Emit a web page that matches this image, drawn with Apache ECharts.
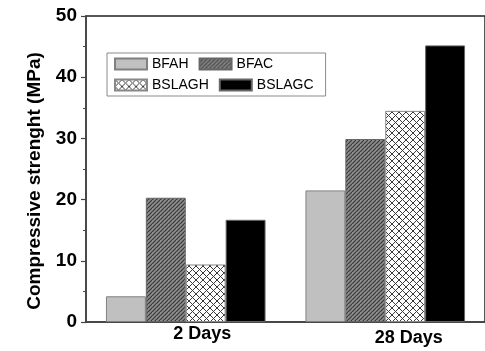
<!DOCTYPE html>
<html>
<head>
<meta charset="utf-8">
<script src="https://cdn.jsdelivr.net/npm/echarts@6/dist/echarts.min.js"></script>
<style>
  html, body { margin: 0; padding: 0; background: #fff; }
  #chart { width: 485px; height: 351px; }
</style>
</head>
<body>
<div id="chart"></div>
<script>
var categories = ["2 Days", "28 Days"];
var seriesNames = ["BFAH", "BFAC", "BSLAGH", "BSLAGC"];
var bfah = [4.2, 21.5];
var bfac = [20.3, 29.9];
var bslagh = [9.4, 34.5];
var bslagc = [16.7, 45.2];
var yTicks = [0, 10, 20, 30, 40, 50];

// hatch fills, like the printed figure
function hatchPattern() {
  var c = document.createElement("canvas");
  c.width = 4; c.height = 4;
  var ctx = c.getContext("2d");
  ctx.fillStyle = "#8c8c8c";
  ctx.fillRect(0, 0, 4, 4);
  ctx.strokeStyle = "#3a3a3a";
  ctx.lineWidth = 1.2;
  for (var k = -1; k <= 1; k++) {
    ctx.beginPath();
    ctx.moveTo(0, 4 + 4 * k);
    ctx.lineTo(4 + 4 * k, 0);
    ctx.stroke();
  }
  return { image: c, repeat: "repeat" };
}
function crossPattern() {
  var s = 7;
  var c = document.createElement("canvas");
  c.width = s; c.height = s;
  var ctx = c.getContext("2d");
  ctx.fillStyle = "#fff";
  ctx.fillRect(0, 0, s, s);
  ctx.strokeStyle = "#3a3a3a";
  ctx.lineWidth = 1;
  for (var k = -1; k <= 1; k++) {
    ctx.beginPath();
    ctx.moveTo(0, s + s * k);
    ctx.lineTo(s + s * k, 0);
    ctx.stroke();
    ctx.beginPath();
    ctx.moveTo(s * k, 0);
    ctx.lineTo(s * k + s, s);
    ctx.stroke();
  }
  return { image: c, repeat: "repeat" };
}

var font = "'Liberation Sans', Arial, sans-serif";
var chart = echarts.init(document.getElementById("chart"));

function bar(name, data, style) {
  return {
    name: name,
    type: "bar",
    barGap: "0%",
    barCategoryGap: "20%",
    itemStyle: style,
    data: data
  };
}

var option = {
  animation: false,
  textStyle: { fontFamily: font },
  grid: {
    left: 86, right: -6, top: 16, bottom: 29,
    show: true, borderColor: "#222", borderWidth: 1.5
  },
  legend: {
    left: 107, top: 53,
    width: 210,
    padding: [4, 9, 4, 7],
    itemWidth: 32, itemHeight: 11,
    itemGap: 7,
    icon: "rect",
    borderColor: "#8a8a8a", borderWidth: 1,
    textStyle: { fontSize: 14, color: "#000", fontFamily: font, lineHeight: 12, padding: [0, 3, 0, 0] },
    data: seriesNames
  },
  xAxis: {
    type: "category",
    data: categories,
    axisLine: { lineStyle: { color: "#444", width: 1.5 } },
    axisTick: { show: false },
    axisLabel: {
      margin: 3,
      formatter: function (v, i) { return "{c" + i + "|" + v + "}"; },
      rich: {
        c0: { fontSize: 18, fontWeight: "bold", color: "#000", fontFamily: font, padding: [0, 0, 0, 33] },
        c1: { fontSize: 18, fontWeight: "bold", color: "#000", fontFamily: font, padding: [4, 0, 0, 47] }
      }
    }
  },
  yAxis: {
    type: "value",
    min: yTicks[0], max: yTicks[yTicks.length - 1], interval: 10,
    name: "Compressive strenght (MPa)",
    nameLocation: "middle",
    nameGap: 42,
    nameTextStyle: { fontSize: 19, fontWeight: "bold", color: "#000", fontFamily: font, padding: [0, 24, 0, 0] },
    axisLine: { show: true, lineStyle: { color: "#444", width: 1.5 } },
    axisTick: { show: true, length: 5, lineStyle: { color: "#444", width: 1.2 } },
    minorTick: { show: true, splitNumber: 2, length: 3, lineStyle: { color: "#444", width: 1 } },
    splitLine: { show: false },
    axisLabel: { fontSize: 19, fontWeight: "bold", color: "#000", margin: 9, fontFamily: font }
  },
  series: [
    bar(seriesNames[0], bfah, { color: "#c0c0c0", borderColor: "#808080", borderWidth: 1 }),
    bar(seriesNames[1], bfac, { color: hatchPattern(), borderColor: "#666", borderWidth: 1 }),
    bar(seriesNames[2], bslagh, { color: crossPattern(), borderColor: "#888", borderWidth: 1 }),
    bar(seriesNames[3], bslagc, { color: "#000", borderColor: "#666", borderWidth: 1 })
  ]
};
chart.setOption(option);
</script>
</body>
</html>
